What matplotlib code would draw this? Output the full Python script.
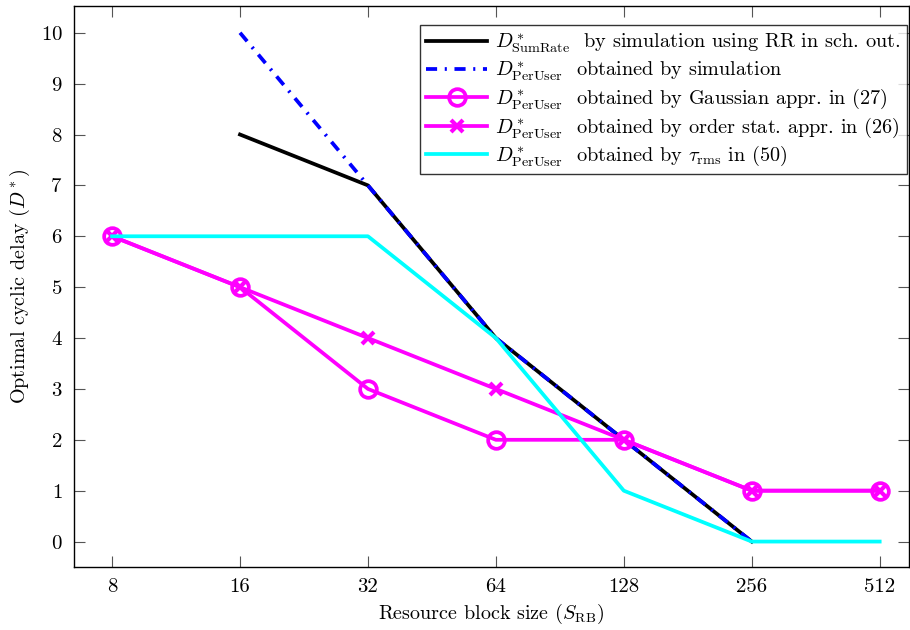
import numpy as np
import matplotlib
matplotlib.use("Agg")
import matplotlib.pyplot as plt

plt.rcParams["font.family"] = ["cmr10", "DejaVu Serif"]
plt.rcParams["mathtext.fontset"] = "cm"
plt.rcParams["axes.formatter.use_mathtext"] = True
plt.rcParams["lines.scale_dashes"] = False

# dati
rb_size = [8, 16, 32, 64, 128, 256, 512]
sumrate_x = [16, 32, 64, 128, 256]
sumrate_sim = [8, 7, 4, 2, 0]
peruser_x = [16, 32, 64, 128, 256]
peruser_sim = [10, 7, 4, 2, 0]
gauss_appr = [6, 5, 3, 2, 2, 1, 1]
order_stat = [6, 5, 4, 3, 2, 1, 1]
tau_rms = [6, 6, 6, 4, 1, 0, 0]

fig = plt.figure(figsize=(9.1, 6.3), dpi=100)
ax = fig.add_axes([0.081, 0.1, 0.918, 0.89])

lw = 2.7
ax.plot(sumrate_x, sumrate_sim, color="black", lw=lw,
        label=r"$D^*_{\mathrm{SumRate}}$  by simulation using RR in sch. out.")
ax.plot(peruser_x, peruser_sim, color="blue", lw=lw, dashes=[8, 5.5, 1.5, 5.5],
        label=r"$D^*_{\mathrm{PerUser}}$  obtained by simulation")
ax.plot(rb_size, gauss_appr, color="magenta", lw=lw, marker="o", ms=12,
        mfc="none", mew=2.7,
        label=r"$D^*_{\mathrm{PerUser}}$  obtained by Gaussian appr. in (27)")
ax.plot(rb_size, order_stat, color="magenta", lw=lw, marker="x", ms=8, mew=3,
        label=r"$D^*_{\mathrm{PerUser}}$  obtained by order stat. appr. in (26)")
ax.plot(rb_size, tau_rms, color="cyan", lw=lw,
        label=r"$D^*_{\mathrm{PerUser}}$  obtained by $\tau_{\mathrm{rms}}$ in (50)")

ax.set_xscale("log", base=2)
ax.set_xlim(2 ** 2.7, 2 ** 9.23)
ax.set_ylim(-0.5, 10.52)
ax.set_xticks(rb_size)
ax.set_xticklabels([str(v) for v in rb_size])
ax.minorticks_off()
ax.set_yticks(range(0, 11))
ax.tick_params(direction="in", length=8, width=0.8, labelsize=15,
               top=True, right=True, color="#555555", pad=8)
for s in ax.spines.values():
    s.set_linewidth(1.0)

ax.set_xlabel(r"Resource block size ($S_{\mathrm{RB}}$)", fontsize=14.5, labelpad=4)
ax.set_ylabel(r"Optimal cyclic delay ($D^*$)", fontsize=14.5, labelpad=6)

leg = ax.legend(loc="upper right", bbox_to_anchor=(906.5 / 910, 1 - 25 / 630),
                bbox_transform=fig.transFigure, borderaxespad=0,
                fontsize=14.6, frameon=True, fancybox=False,
                edgecolor="black", handlelength=3.0,
                labelspacing=0.2, borderpad=0.3, handletextpad=0.4)
leg.get_frame().set_linewidth(1.0)

fig.savefig("out.png", dpi=100)
